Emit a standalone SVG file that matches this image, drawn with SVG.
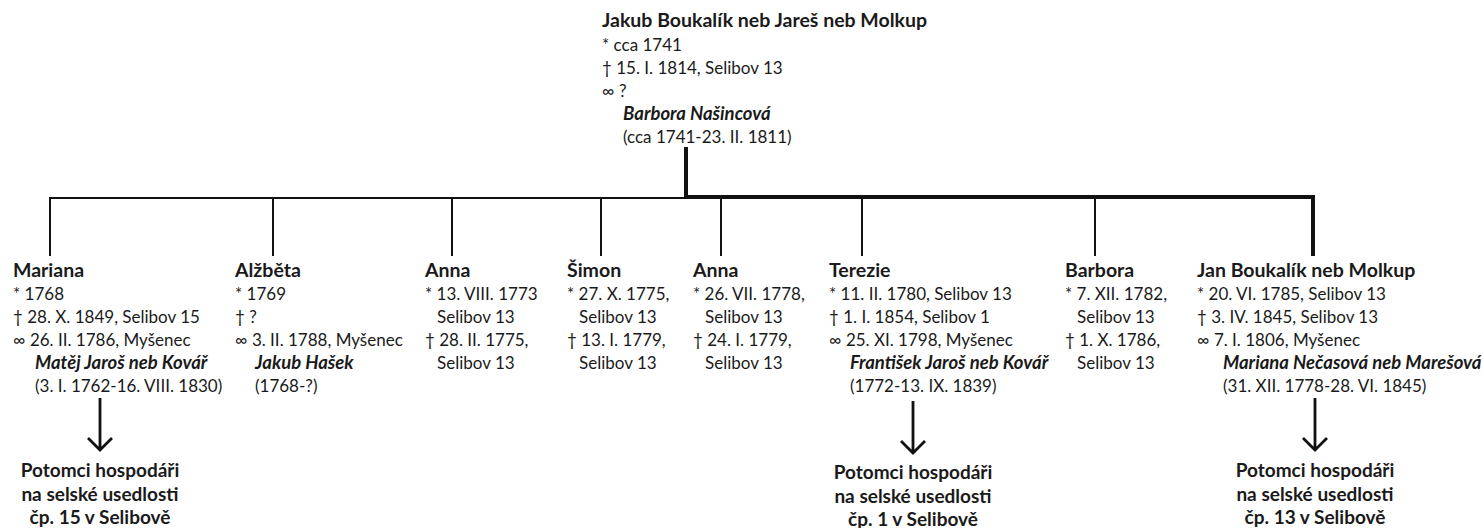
<svg xmlns="http://www.w3.org/2000/svg" width="1483" height="528" viewBox="0 0 1483 528">
<defs>
<style>
text{font-family:Lato,"Open Sans","Liberation Sans",sans-serif;fill:#1a1a1a;font-size:17px}
.n{font-weight:bold;font-size:19.5px}
.s{font-weight:bold;font-style:italic;font-size:18.5px}
.d{font-weight:bold;font-size:19px;text-anchor:middle}
.thin{stroke:#111;stroke-width:2;fill:none}
.thick{stroke:#111;stroke-width:4;fill:none}
.arr{stroke:#111;stroke-width:2.8;fill:none}
</style>
</defs>
<rect width="1483" height="528" fill="#fff"/>
<g id="connectors">
<path class="thin" d="M50 198H687M50 197V256M273 197V256M452 197V256M601 197V256M721 197V256M862 197V256M1095 197V256"/>
<path class="thick" d="M686 147V197H1313V256"/>
<path class="arr" d="M100 398V450M88 438L100 450L112 438"/>
<path class="arr" d="M913 401V453M901 441L913 453L925 441"/>
<path class="arr" d="M1315 398V450M1303 438L1315 450L1327 438"/>
</g>
<g id="root">
<text class="n" x="602" y="27">Jakub Boukalík neb Jareš neb Molkup</text>
<text x="602" y="51">* cca 1741</text>
<text x="602" y="74">† 15. I. 1814, Selibov 13</text>
<text x="602" y="97">∞ ?</text>
<text class="s" x="623" y="120">Barbora Našincová</text>
<text x="623" y="143">(cca 1741-23. II. 1811)</text>
</g>
<g id="mariana">
<text class="n" x="13" y="277">Mariana</text>
<text x="13" y="300">* 1768</text>
<text x="13" y="323">† 28. X. 1849, Selibov 15</text>
<text x="13" y="346">∞ 26. II. 1786, Myšenec</text>
<text class="s" x="35" y="369">Matěj Jaroš neb Kovář</text>
<text x="35" y="392">(3. I. 1762-16. VIII. 1830)</text>
</g>
<g id="alzbeta">
<text class="n" x="235" y="277">Alžběta</text>
<text x="235" y="300">* 1769</text>
<text x="235" y="323">† ?</text>
<text x="235" y="346">∞ 3. II. 1788, Myšenec</text>
<text class="s" x="255" y="369">Jakub Hašek</text>
<text x="255" y="392">(1768-?)</text>
</g>
<g id="anna1">
<text class="n" x="425" y="277">Anna</text>
<text x="425" y="300">* 13. VIII. 1773</text>
<text x="437" y="323">Selibov 13</text>
<text x="425" y="346">† 28. II. 1775,</text>
<text x="437" y="369">Selibov 13</text>
</g>
<g id="simon">
<text class="n" x="567" y="277">Šimon</text>
<text x="567" y="300">* 27. X. 1775,</text>
<text x="579" y="323">Selibov 13</text>
<text x="567" y="346">† 13. I. 1779,</text>
<text x="579" y="369">Selibov 13</text>
</g>
<g id="anna2">
<text class="n" x="693" y="277">Anna</text>
<text x="693" y="300">* 26. VII. 1778,</text>
<text x="705" y="323">Selibov 13</text>
<text x="693" y="346">† 24. I. 1779,</text>
<text x="705" y="369">Selibov 13</text>
</g>
<g id="terezie">
<text class="n" x="829" y="277">Terezie</text>
<text x="829" y="300">* 11. II. 1780, Selibov 13</text>
<text x="829" y="323">† 1. I. 1854, Selibov 1</text>
<text x="829" y="346">∞ 25. XI. 1798, Myšenec</text>
<text class="s" x="850" y="369">František Jaroš neb Kovář</text>
<text x="850" y="392">(1772-13. IX. 1839)</text>
</g>
<g id="barbora">
<text class="n" x="1065" y="277">Barbora</text>
<text x="1065" y="300">* 7. XII. 1782,</text>
<text x="1077" y="323">Selibov 13</text>
<text x="1065" y="346">† 1. X. 1786,</text>
<text x="1077" y="369">Selibov 13</text>
</g>
<g id="jan">
<text class="n" x="1197" y="277">Jan Boukalík neb Molkup</text>
<text x="1197" y="300">* 20. VI. 1785, Selibov 13</text>
<text x="1197" y="323">† 3. IV. 1845, Selibov 13</text>
<text x="1197" y="346">∞ 7. I. 1806, Myšenec</text>
<text class="s" x="1223" y="369">Mariana Nečasová neb Marešová</text>
<text x="1223" y="392">(31. XII. 1778-28. VI. 1845)</text>
</g>
<g id="desc15">
<text class="d" x="100" y="477">Potomci hospodáři</text>
<text class="d" x="100" y="501">na selské usedlosti</text>
<text class="d" x="100" y="524">čp. 15 v Selibově</text>
</g>
<g id="desc1">
<text class="d" x="913" y="479">Potomci hospodáři</text>
<text class="d" x="913" y="503">na selské usedlosti</text>
<text class="d" x="913" y="526">čp. 1 v Selibově</text>
</g>
<g id="desc13">
<text class="d" x="1315" y="477">Potomci hospodáři</text>
<text class="d" x="1315" y="501">na selské usedlosti</text>
<text class="d" x="1315" y="524">čp. 13 v Selibově</text>
</g>
</svg>
